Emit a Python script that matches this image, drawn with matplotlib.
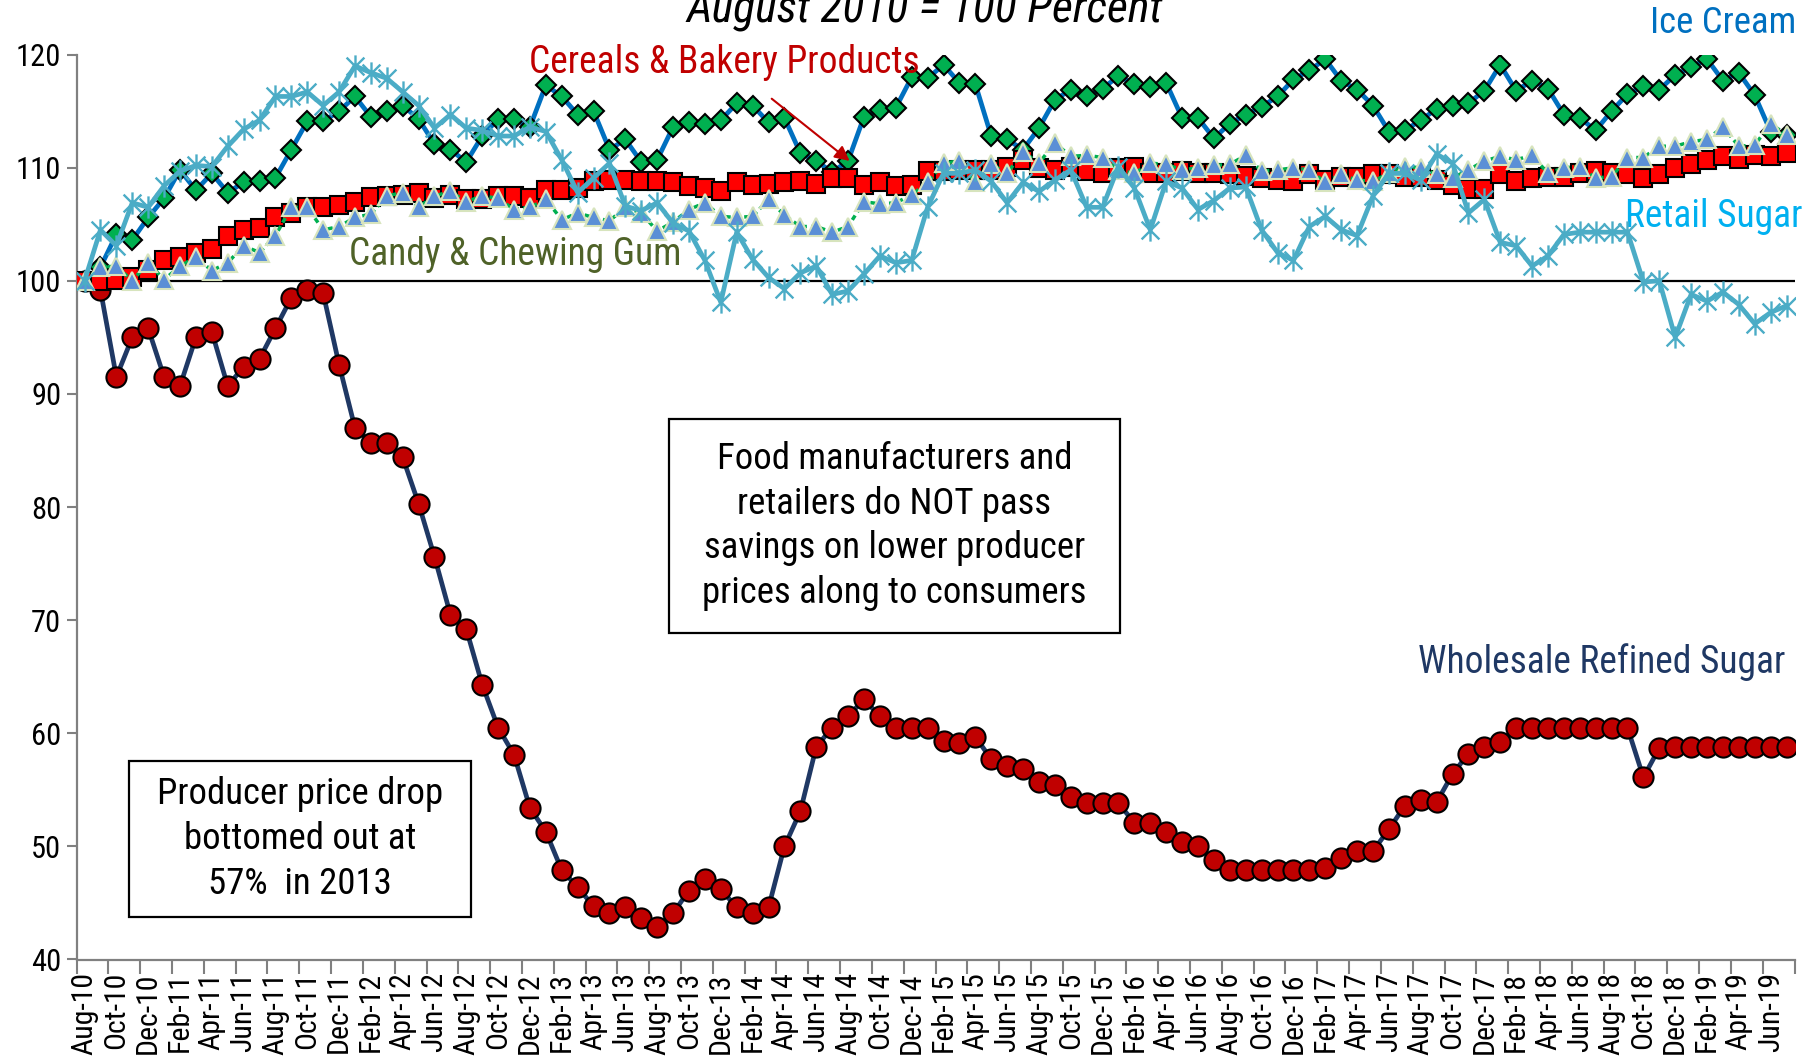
import matplotlib
matplotlib.use("Agg")
import matplotlib.pyplot as plt
import matplotlib.font_manager as fm
from matplotlib.path import Path
from matplotlib.patches import Rectangle
import numpy as np
import pandas as pd

# ---------------- data ----------------
months = list(pd.date_range("2010-08-01", periods=108, freq="MS").strftime("%b-%y"))

ice_cream = [100.0, 101.2, 104.1, 103.6, 105.6, 107.3, 109.8, 108.0, 109.5, 107.8,
             108.7, 108.8, 109.1, 111.6, 114.1, 114.1, 115.0, 116.3, 114.5, 115.0,
             115.5, 114.3, 112.1, 111.6, 110.5, 112.8, 114.3, 114.3, 113.6, 117.3,
             116.3, 114.7, 115.0, 111.6, 112.5, 110.5, 110.7, 113.6, 114.0, 113.9,
             114.2, 115.7, 115.5, 114.0, 114.4, 111.3, 110.6, 109.6, 110.6, 114.5,
             115.1, 115.3, 118.0, 117.9, 119.1, 117.5, 117.4, 112.8, 112.5, 111.6,
             113.5, 116.0, 116.9, 116.3, 117.0, 118.1, 117.4, 117.1, 117.5, 114.4,
             114.4, 112.6, 113.9, 114.7, 115.4, 116.3, 117.8, 118.6, 119.6, 117.7,
             116.9, 115.5, 113.2, 113.3, 114.2, 115.2, 115.5, 115.7, 116.8, 119.1,
             116.8, 117.7, 117.0, 114.7, 114.4, 113.3, 115.0, 116.5, 117.2, 116.9,
             118.2, 118.9, 119.6, 117.7, 118.4, 116.4, 113.2, 112.9]

retail_sugar = [100.0, 104.5, 103.1, 106.9, 106.5, 108.4, 109.7, 110.2, 110.1, 111.9,
                113.4, 114.2, 116.3, 116.3, 116.7, 115.5, 116.7, 119.0, 118.4, 117.9,
                116.7, 115.5, 113.5, 114.7, 113.5, 113.3, 112.8, 112.8, 113.6, 113.2,
                110.7, 107.8, 109.1, 110.4, 106.6, 106.2, 106.9, 105.1, 104.4, 101.8,
                98.1, 104.3, 101.9, 100.3, 99.3, 100.7, 101.3, 98.8, 99.1, 100.6,
                102.2, 101.6, 101.8, 106.5, 109.5, 109.5, 109.8, 108.8, 106.9, 108.7,
                107.9, 108.9, 109.8, 106.5, 106.5, 110.1, 108.2, 104.5, 108.8, 108.2,
                106.3, 107.1, 108.2, 108.3, 104.5, 102.5, 101.8, 104.8, 105.7, 104.5,
                104.0, 107.5, 109.5, 109.5, 108.9, 111.2, 110.4, 106.0, 107.2, 103.4,
                103.1, 101.3, 102.2, 104.1, 104.3, 104.3, 104.3, 104.3, 99.9, 100.0,
                95.0, 98.8, 98.2, 99.0, 97.9, 96.2, 97.2, 97.8]

cereals = [100.0, 100.0, 100.1, 100.3, 101.0, 101.8, 102.1, 102.5, 102.8, 104.0,
           104.5, 104.7, 105.6, 106.0, 106.5, 106.5, 106.7, 107.0, 107.4, 107.5,
           107.6, 107.8, 107.3, 107.6, 107.2, 107.2, 107.5, 107.5, 107.3, 108.0,
           108.0, 108.2, 108.8, 108.9, 108.9, 108.8, 108.8, 108.7, 108.4, 108.2,
           107.9, 108.7, 108.5, 108.6, 108.7, 108.8, 108.6, 109.1, 109.1, 108.5,
           108.7, 108.4, 108.5, 109.7, 109.7, 109.8, 109.8, 109.8, 110.1, 110.7,
           110.0, 109.8, 110.1, 109.7, 109.5, 110.0, 110.1, 109.5, 109.5, 109.7,
           109.5, 109.5, 109.4, 109.3, 109.1, 108.9, 108.8, 109.4, 108.9, 109.2,
           109.2, 109.4, 109.4, 109.2, 109.2, 108.9, 108.5, 108.1, 108.1, 109.4,
           108.8, 109.1, 109.2, 109.2, 109.5, 109.7, 109.5, 109.4, 109.1, 109.4,
           110.0, 110.3, 110.7, 111.0, 110.8, 111.1, 111.0, 111.3]

candy = [100.0, 101.2, 101.3, 100.0, 101.6, 100.1, 101.3, 102.1, 100.9, 101.6,
         103.1, 102.5, 104.0, 106.5, 106.5, 104.5, 104.8, 105.6, 105.9, 107.5,
         107.8, 106.5, 107.5, 107.9, 107.0, 107.5, 107.3, 106.3, 106.5, 107.2,
         105.4, 106.0, 105.6, 105.3, 106.5, 106.0, 104.4, 105.2, 106.3, 106.9,
         105.7, 105.6, 105.7, 107.2, 105.8, 104.8, 104.8, 104.3, 104.8, 107.0,
         106.8, 106.9, 107.6, 108.7, 110.4, 110.6, 108.7, 110.3, 109.5, 111.4,
         110.4, 112.2, 111.0, 111.1, 110.9, 109.8, 109.5, 110.4, 110.3, 109.8,
         110.0, 110.2, 110.3, 111.1, 109.7, 109.8, 110.0, 109.8, 108.7, 109.4,
         108.9, 108.8, 109.5, 110.1, 110.0, 109.4, 109.1, 109.8, 110.6, 111.0,
         110.7, 111.1, 109.5, 110.0, 110.1, 109.1, 109.2, 110.9, 110.9, 111.9,
         111.9, 112.3, 112.5, 113.6, 111.9, 112.0, 113.9, 112.9]

wholesale = [100.0, 99.2, 91.5, 95.0, 95.8, 91.5, 90.7, 95.0, 95.5, 90.7,
             92.4, 93.1, 95.8, 98.5, 99.2, 98.9, 92.6, 87.0, 85.7, 85.7,
             84.4, 80.3, 75.6, 70.5, 69.2, 64.3, 60.5, 58.1, 53.4, 51.3,
             47.9, 46.4, 44.7, 44.1, 44.6, 43.7, 42.9, 44.1, 46.1, 47.1,
             46.2, 44.6, 44.1, 44.6, 50.0, 53.1, 58.8, 60.5, 61.5, 63.0,
             61.5, 60.5, 60.5, 60.5, 59.3, 59.1, 59.7, 57.7, 57.1, 56.8,
             55.7, 55.4, 54.4, 53.8, 53.8, 53.8, 52.1, 52.1, 51.3, 50.4,
             50.0, 48.8, 47.9, 47.9, 47.9, 47.9, 47.9, 47.9, 48.1, 49.0,
             49.6, 49.6, 51.5, 53.6, 54.1, 53.9, 56.4, 58.2, 58.8, 59.2,
             60.5, 60.5, 60.5, 60.5, 60.5, 60.5, 60.5, 60.5, 56.1, 58.7,
             58.8, 58.8, 58.8, 58.8, 58.8, 58.8, 58.8, 58.8]

y_ticks = [40, 50, 60, 70, 80, 90, 100, 110, 120]

# ---------------- fonts ----------------
names = {f.name for f in fm.fontManager.ttflist}
COND = None
for cand in ["Liberation Sans Narrow", "Roboto Condensed", "Open Sans Condensed"]:
    if cand in names:
        COND = cand
        break
cond_kw = {"family": COND} if COND else {"family": "DejaVu Sans", "stretch": "condensed"}

# ---------------- figure ----------------
W, H = 1820, 1057
fig = plt.figure(figsize=(W / 100, H / 100), dpi=100)
ax = fig.add_axes([76.6 / W, 1 - 959.5 / H, (1794.5 - 76.6) / W, (959.5 - 54.6) / H])

x = np.arange(len(months))

# asterisk marker (X plus vertical bar)
ast = Path([(-1, -1), (1, 1), (-1, 1), (1, -1), (0, -1.25), (0, 1.25)],
           [Path.MOVETO, Path.LINETO, Path.MOVETO, Path.LINETO, Path.MOVETO, Path.LINETO])

ax.plot(x, wholesale, color="#1F3864", lw=3.4, marker="o", ms=14.5,
        mfc="#C00000", mec="black", mew=1.5, zorder=3)
ax.plot(x, ice_cream, color="#0070C0", lw=3.4, marker="D", ms=10.5,
        mfc="#00B050", mec="black", mew=1.5, zorder=3)
ax.plot(x, cereals, color="#FF0000", lw=2.5, marker="s", ms=12.5,
        mfc="#FF0000", mec="black", mew=1.5, zorder=4)
ax.plot(x, candy, color="#00B050", lw=2.5, ls=(0, (1.5, 1.2)), marker="^", ms=13,
        mfc="#5B8FD6", mec="#D7E4BD", mew=1.5, zorder=5)
ax.plot(x, retail_sugar, color="#4BACC6", lw=3.4, marker=ast, ms=16,
        mfc="none", mec="#4BACC6", mew=1.7, zorder=6)

ax.axhline(100, color="black", lw=1.6, zorder=2)

ax.set_xlim(-0.5, len(months) - 0.5)
ax.set_ylim(40, 120)

# spines
for s in ["top", "right"]:
    ax.spines[s].set_visible(False)
for s in ["left", "bottom"]:
    ax.spines[s].set_color("#808080")
    ax.spines[s].set_linewidth(1.6)

ax.set_yticks(y_ticks)
ax.set_yticklabels([str(v) for v in y_ticks], fontsize=22, **cond_kw)
ax.tick_params(axis="y", direction="out", length=7, width=1.5, color="#808080", pad=4)

# x: labels every 2 months at category centres, tick marks at category boundaries
ax.set_xticks(x[::2])
ax.set_xticklabels(months[::2], rotation=90, fontsize=21.5, **cond_kw)
ax.tick_params(axis="x", length=0, pad=9)
ax.set_xticks(np.arange(-0.5, len(months), 2), minor=True)
ax.tick_params(axis="x", which="minor", direction="out", length=10, width=1.5, color="#808080")

# ---------------- annotations ----------------
fig.text(925 / W, 1 - 23 / H, "August 2010 = 100 Percent", ha="center", va="baseline",
         fontsize=33, style="italic", color="black", **cond_kw)

ax.text(107.6, 122.8, "Ice Cream", ha="right", va="center", fontsize=26.5,
        color="#0070C0", clip_on=False, **cond_kw)
ax.text(40.2, 119.3, "Cereals & Bakery Products", ha="center", va="center", fontsize=27,
        color="#C00000", clip_on=False, **cond_kw)
ax.annotate("", xy=(48.1, 110.6), xytext=(43.2, 116.1),
            arrowprops=dict(arrowstyle="-|>", color="#C00000", lw=1.5,
                            mutation_scale=22, shrinkA=0, shrinkB=0), zorder=7)
ax.text(16.6, 102.3, "Candy & Chewing Gum", ha="left", va="center", fontsize=27,
        color="#4F6228", **cond_kw)
ax.text(108.0, 105.7, "Retail Sugar", ha="right", va="center", fontsize=27,
        color="#00B0F0", clip_on=False, **cond_kw)
ax.text(106.9, 66.3, "Wholesale Refined Sugar", ha="right", va="center", fontsize=27,
        color="#1F3864", **cond_kw)

# boxes
fig.patches.append(Rectangle((669 / W, 1 - 633 / H), 451 / W, 214 / H, transform=fig.transFigure,
                             fill=True, facecolor="white", edgecolor="black", lw=1.6, zorder=8))
fig.text(894.5 / W, 1 - 526 / H,
         "Food manufacturers and\nretailers do NOT pass\nsavings on lower producer\nprices along to consumers",
         ha="center", va="center", fontsize=26.5, linespacing=1.32, zorder=9, **cond_kw)

fig.patches.append(Rectangle((129 / W, 1 - 917 / H), 342 / W, 156 / H, transform=fig.transFigure,
                             fill=True, facecolor="white", edgecolor="black", lw=1.6, zorder=8))
fig.text(300 / W, 1 - 839 / H, "Producer price drop\nbottomed out at\n57%  in 2013",
         ha="center", va="center", fontsize=26.5, linespacing=1.32, zorder=9, **cond_kw)

fig.savefig("out.png", dpi=100, facecolor="white")
